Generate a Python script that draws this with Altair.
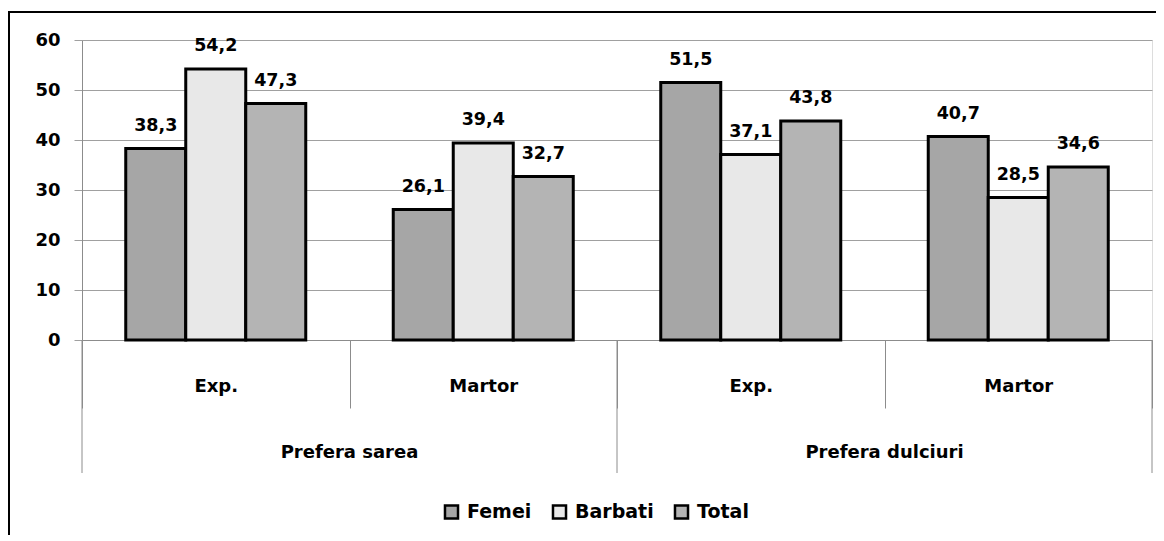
import altair as alt
import pandas as pd

# ---- data ----
groups = ["Prefera sarea", "Prefera sarea", "Prefera dulciuri", "Prefera dulciuri"]
cats = ["Exp.", "Martor", "Exp.", "Martor"]
series = ["Femei", "Barbati", "Total"]
femei = [38.3, 26.1, 51.5, 40.7]
barbati = [54.2, 39.4, 37.1, 28.5]
total = [47.3, 32.7, 43.8, 34.6]
y_ticks = [0, 10, 20, 30, 40, 50, 60]
colors = ["#a6a6a6", "#e8e8e8", "#b4b4b4"]

keys = [f"{i}|{c}" for i, c in enumerate(cats)]
rows = []
for vals, s in zip([femei, barbati, total], series):
    for k, g, v in zip(keys, groups, vals):
        rows.append({"key": k, "group": g, "series": s, "value": v,
                     "label": f"{v:.1f}".replace(".", ",")})
df = pd.DataFrame(rows)

FONT = "DejaVu Sans"
GRID = "#a0a0a0"
AXIS = "#8c8c8c"

xaxis = alt.Axis(
    title=None, labelExpr="split(datum.value, '|')[1]", tickBand="extent",
    tickSize=68, tickColor=AXIS, domainColor=AXIS, labelPadding=-17,
    labelBaseline="alphabetic", labelFont=FONT, labelFontSize=18,
    labelFontWeight="bold", labelColor="#000000", grid=False, labelAngle=0,
)
xscale = alt.Scale(paddingInner=0, paddingOuter=0)
xenc = alt.X("key:N", sort=keys, scale=xscale, axis=xaxis)
xoff = alt.XOffset("series:N", sort=series,
                   scale=alt.Scale(paddingInner=0, paddingOuter=0.729))
yenc = alt.Y("value:Q", scale=alt.Scale(domain=[0, 60], nice=False),
             axis=alt.Axis(title=None, values=y_ticks, grid=True, gridColor=GRID,
                           tickColor=GRID, tickSize=8, domainColor=AXIS,
                           labelPadding=14, labelFont=FONT, labelFontSize=18,
                           labelFontWeight="bold", labelColor="#000000"))

bars = alt.Chart(df).mark_bar(stroke="black", strokeWidth=3).encode(
    x=xenc, xOffset=xoff, y=yenc,
    color=alt.Color("series:N", sort=series,
                    scale=alt.Scale(domain=series, range=colors),
                    legend=alt.Legend(orient="none", legendX=360, legendY=462,
                                      direction="horizontal", title=None,
                                      symbolType="square", symbolSize=170,
                                      symbolStrokeColor="black", symbolStrokeWidth=2.5,
                                      labelFont=FONT, labelFontSize=19,
                                      labelFontWeight="bold", labelColor="#000000",
                                      labelOffset=6, columnPadding=15, padding=0)),
)

labels = alt.Chart(df).mark_text(
    font=FONT, fontSize=17.5, fontWeight="bold", color="#000000",
    baseline="alphabetic", dy=-18,
).encode(x=xenc, xOffset=xoff, y=yenc, text="label:N")

grp_df = pd.DataFrame({"key": [keys[1], keys[3]], "group": [groups[1], groups[3]]})
group_text = alt.Chart(grp_df).mark_text(
    font=FONT, fontSize=18, fontWeight="bold", color="#000000", baseline="alphabetic",
).encode(x=alt.X("key:N", sort=keys, scale=xscale, axis=xaxis, bandPosition=0),
         y=alt.value(418), text="group:N")

sep_start = pd.DataFrame({"key": [keys[0], keys[2]]})
sep_end = pd.DataFrame({"key": [keys[3]]})
rule_a = alt.Chart(sep_start).mark_rule(color=AXIS, strokeWidth=1).encode(
    x=alt.X("key:N", sort=keys, scale=xscale, axis=xaxis, bandPosition=0),
    y=alt.value(300), y2=alt.value(433))
rule_b = alt.Chart(sep_end).mark_rule(color=AXIS, strokeWidth=1).encode(
    x=alt.X("key:N", sort=keys, scale=xscale, axis=xaxis, bandPosition=1),
    y=alt.value(300), y2=alt.value(433))

border = alt.Chart(pd.DataFrame({"b": [0]})).mark_rect(
    fillOpacity=0, stroke="black", strokeWidth=2).encode(
    x=alt.value(-73), x2=alt.value(1200), y=alt.value(-28), y2=alt.value(600))

chart = alt.layer(rule_a, rule_b, bars, labels, group_text, border).properties(
    width=1070, height=300,
    autosize=alt.AutoSizeParams(type="none"),
    padding={"left": 74, "top": 32, "right": 4, "bottom": 195},
).configure_view(stroke=None).configure(background="white")

chart.save("out.html", embed_options={"renderer": "svg", "actions": False})
